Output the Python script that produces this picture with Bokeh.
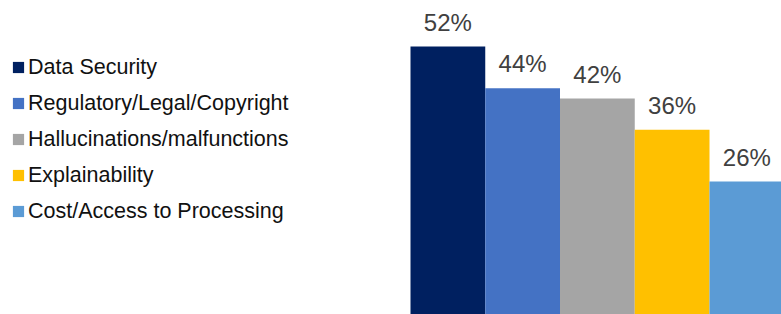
from bokeh.plotting import figure
from bokeh.models import ColumnDataSource, Range1d, LabelSet, Legend, LegendItem
from bokeh.core.properties import value
from bokeh.embed import file_html
from bokeh.resources import INLINE
import numpy as np

categories = ["Data Security", "Regulatory/Legal/Copyright", "Hallucinations/malfunctions",
              "Explainability", "Cost/Access to Processing"]
values = [52, 44, 42, 36, 26]
colors = ["#002060", "#4472C4", "#A5A5A5", "#FFC000", "#5B9BD5"]
value_labels = [f"{v}%" for v in values]

W, H = 781, 314
px_per_bar = 74.75
bar_left_px = 410
px_per_pct = 5.19
baseline_px = 316

x0 = -bar_left_px / px_per_bar
y0 = (baseline_px - H) / px_per_pct

src = ColumnDataSource(dict(
    x=np.arange(len(categories)) + 0.5,
    top=values,
    color=colors,
    label=value_labels,
    cat=categories,
))

p = figure(width=W, height=H, output_backend="svg", toolbar_location=None,
           x_range=Range1d(x0, x0 + W / px_per_bar),
           y_range=Range1d(y0, y0 + H / px_per_pct),
           x_axis_location=None, y_axis_location=None,
           min_border=0, outline_line_color=None)
p.xgrid.visible = False
p.ygrid.visible = False

r = p.vbar(x="x", top="top", bottom=0, width=1.0, fill_color="color", line_color=None, source=src)

labels = LabelSet(x="x", y="top", text="label", source=src, y_offset=16,
                  text_align="center", text_baseline="alphabetic",
                  text_font=value("Liberation Sans"), text_font_size=value("24px"),
                  text_color=value("#404040"))
p.add_layout(labels)

items = [LegendItem(label=c, renderers=[r], index=i) for i, c in enumerate(categories)]
legend = Legend(items=items, location=(11, 88), orientation="vertical",
                glyph_width=14, glyph_height=14, label_height=30, spacing=6,
                label_standoff=3, padding=0, margin=0,
                label_text_font="Liberation Sans", label_text_font_size="21.5px",
                label_text_color="#111111",
                border_line_color=None, background_fill_alpha=0)
p.add_layout(legend)

open("out.html", "w").write(file_html(p, INLINE))
